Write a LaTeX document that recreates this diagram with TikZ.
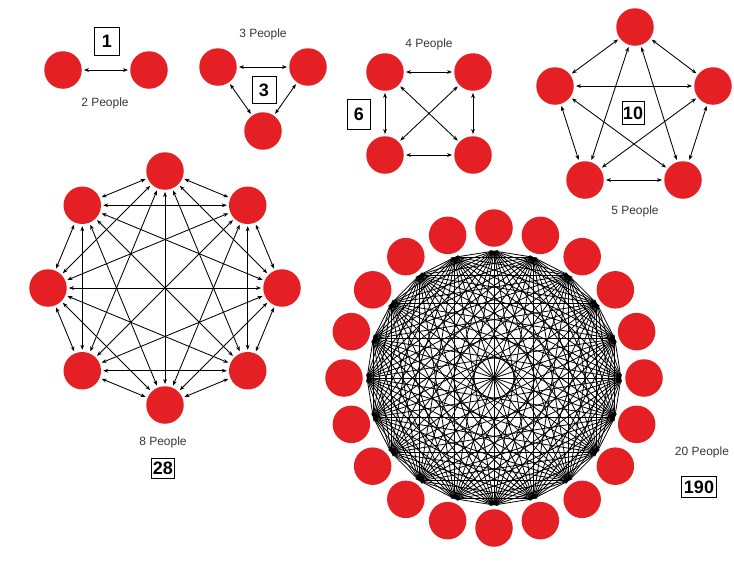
\documentclass[tikz,border=0pt]{standalone}
\usepackage{fontspec}
\setmainfont{Liberation Sans}
\usetikzlibrary{arrows.meta}
\definecolor{pred}{RGB}{229,32,36}
\tikzset{
  person/.style={circle, fill=pred, draw=none, minimum size=37.5pt, inner sep=0pt},
  conn/.style={{Stealth[length=5pt,width=3.8pt]}-{Stealth[length=5pt,width=3.8pt]}, line width=0.85pt, shorten >=2pt, shorten <=2pt},
  bigconn/.style={{Stealth[length=4pt,width=3.2pt]}-{Stealth[length=4pt,width=3.2pt]}, line width=0.8pt},
  countbox/.style={draw, line width=0.8pt, inner sep=1pt, font=\bfseries\fontsize{18}{18}\selectfont},
  caption/.style={text=black!78, font=\fontsize{12}{14}\selectfont, inner sep=0pt}
}
\begin{document}
\begin{tikzpicture}[x=1pt,y=-1pt]
\useasboundingbox (0,0) rectangle (734,568);
\fill[white] (0,0) rectangle (734,568);

% ---- 2 people
\node[person] (a1) at (63,70) {};
\node[person] (a2) at (149,70) {};
\draw[conn] (a1) -- (a2);
\node[countbox, minimum width=25pt, minimum height=28pt] (c2) at (107,41) {1};
\node[caption] (l2) at (105,103) {2 People};

% ---- 3 people
\node[person] (b1) at (218,67) {};
\node[person] (b2) at (308,67) {};
\node[person] (b3) at (263,131) {};
\draw[conn] (b1) -- (b2);
\draw[conn] (b1) -- (b3);
\draw[conn] (b2) -- (b3);
\node[countbox, minimum width=24pt, minimum height=27pt] (c3) at (264,90) {3};
\node[caption] (l3) at (263,34) {3 People};

% ---- 4 people
\node[person] (d1) at (385,72) {};
\node[person] (d2) at (473,72) {};
\node[person] (d3) at (473,155) {};
\node[person] (d4) at (385,155) {};
\foreach \i in {1,...,3}{
  \pgfmathtruncatemacro\ii{\i+1}
  \foreach \j in {\ii,...,4}{ \draw[conn] (d\i) -- (d\j); }
}
\node[countbox, minimum width=23pt, minimum height=30pt] (c4) at (359,114) {6};
\node[caption] (l4) at (429,44) {4 People};

% ---- 5 people
\node[person] (f1) at (635,27) {};
\node[person] (f2) at (713,86) {};
\node[person] (f3) at (683,180) {};
\node[person] (f4) at (585,180) {};
\node[person] (f5) at (555,86) {};
\foreach \i in {1,...,4}{
  \pgfmathtruncatemacro\ii{\i+1}
  \foreach \j in {\ii,...,5}{ \draw[conn] (f\i) -- (f\j); }
}
\node[countbox, minimum width=22pt, minimum height=23pt] (c5) at (633,113) {10};
\node[caption] (l5) at (635,211) {5 People};

% ---- 8 people
\foreach \k in {1,...,8}{
  \pgfmathsetmacro\ang{90-45*(\k-1)}
  \node[person] (g\k) at ({165+117*cos(\ang)},{288-117*sin(\ang)}) {};
}
\foreach \i in {1,...,7}{
  \pgfmathtruncatemacro\ii{\i+1}
  \foreach \j in {\ii,...,8}{ \draw[conn] (g\i) -- (g\j); }
}
\node[caption] (l8) at (163,442) {8 People};
\node[countbox, minimum width=23pt, minimum height=20pt] (c8) at (163,468) {28};

% ---- 20 people
\foreach \k in {1,...,20}{
  \pgfmathsetmacro\ang{90-18*(\k-1)}
  \node[person] (t\k) at ({494+150*cos(\ang)},{378-150*sin(\ang)}) {};
  \coordinate (q\k) at ({494+127*cos(\ang)},{378-127*sin(\ang)});
}
\foreach \i in {1,...,19}{
  \pgfmathtruncatemacro\ii{\i+1}
  \foreach \j in {\ii,...,20}{ \draw[bigconn] (q\i) -- (q\j); }
}
\node[caption] (l20) at (702,452) {20 People};
\node[countbox, minimum width=35pt, minimum height=21pt] (c20) at (699,487) {190};
\end{tikzpicture}
\end{document}
